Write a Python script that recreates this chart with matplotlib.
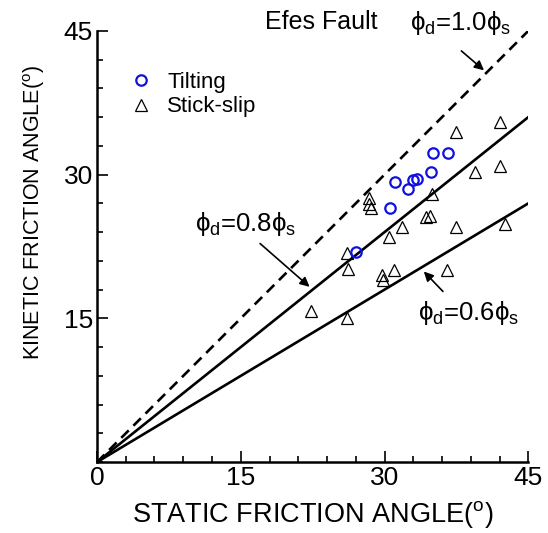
import numpy as np
import matplotlib
matplotlib.use("Agg")
import matplotlib.pyplot as plt
from matplotlib.ticker import MultipleLocator

plt.rcParams['font.family'] = ['Liberation Sans', 'DejaVu Sans']
plt.rcParams['mathtext.fontset'] = 'custom'
plt.rcParams['mathtext.rm'] = 'Liberation Sans'
plt.rcParams['mathtext.it'] = 'Liberation Sans:italic'

# tilting tests (static, kinetic)
tilt_static = [35.1, 36.6, 34.9, 33.4, 33.0, 32.4, 31.1, 30.6, 27.0]
tilt_kinetic = [32.3, 32.3, 30.3, 29.5, 29.4, 28.5, 29.2, 26.5, 21.9]

# stick-slip tests (static, kinetic)
ss_static = [42.0, 37.5, 42.0, 39.4, 35.0, 28.4, 28.4, 28.6, 34.7, 34.3,
             31.8, 37.5, 42.6, 30.5, 26.1, 26.2, 31.0, 29.7, 29.8, 36.5,
             22.3, 26.1]
ss_kinetic = [35.5, 34.5, 30.9, 30.3, 28.0, 27.6, 26.9, 26.5, 25.7, 25.6,
              24.5, 24.5, 24.9, 23.5, 21.8, 20.2, 20.0, 19.5, 19.0, 20.1,
              15.8, 15.0]

ratios = [1.0, 0.8, 0.6]
line_styles = ['--', '-', '-']

fig = plt.figure(figsize=(5.48, 5.33), dpi=100)
ax = fig.add_axes([0.177, 0.133, 0.787, 0.809])

xs = np.array([0, 45])
for r, ls in zip(ratios, line_styles):
    if ls == '--':
        ax.plot(xs, r * xs, color='black', lw=1.9, dashes=(4, 2.5))
    else:
        ax.plot(xs, r * xs, color='black', lw=1.9)

ax.plot(tilt_static, tilt_kinetic, 'o', ms=7.5, mfc='none', mec='#1010e0', mew=1.6,
        label='Tilting', zorder=4)
ax.plot(ss_static, ss_kinetic, '^', ms=8.5, mfc='none', mec='black', mew=0.9,
        label='Stick-slip', zorder=3)

ax.set_xlim(0, 45)
ax.set_ylim(0, 45)
ax.xaxis.set_minor_locator(MultipleLocator(3))
ax.yaxis.set_minor_locator(MultipleLocator(3))
ax.set_xticks([0, 15, 30, 45])
ax.set_yticks([15, 30, 45])
ax.tick_params(which='both', direction='in', labelsize=19, width=1.2)
ax.tick_params(which='major', length=8, pad=3)
ax.tick_params(which='minor', length=4.5)
for s in ['top', 'right']:
    ax.spines[s].set_visible(False)
for s in ['left', 'bottom']:
    ax.spines[s].set_linewidth(1.8)

ax.set_xlabel(r'STATIC FRICTION ANGLE($^{\rm o}$)', fontsize=19.5, labelpad=6)
ax.set_ylabel(r'KINETIC FRICTION ANGLE($^{\rm o}$)', fontsize=15.5)
ax.yaxis.set_label_coords(-0.115, 0.58)

ax.text(23.4, 45.9, 'Efes Fault', fontsize=18, ha='center', va='center', clip_on=False)

phi_d = r'$\mathrm{\phi}_{\rm d}$'
phi_s = r'$\mathrm{\phi}_{\rm s}$'
arrow = dict(arrowstyle='-|>', color='black', lw=1.2, mutation_scale=14)
ax.text(37.9, 45.8, phi_d + '=1.0' + phi_s, fontsize=18.5, ha='center', va='center',
        clip_on=False)
ax.annotate('', xy=(40.6, 40.7), xytext=(37.8, 43.1), arrowprops=arrow)
ax.text(15.5, 24.9, phi_d + '=0.8' + phi_s, fontsize=18.5, ha='center', va='center')
ax.annotate('', xy=(22.4, 18.1), xytext=(16.8, 23.0), arrowprops=arrow)
ax.text(38.8, 15.6, phi_d + '=0.6' + phi_s, fontsize=18.5, ha='center', va='center')
ax.annotate('', xy=(33.9, 20.1), xytext=(36.3, 17.6), arrowprops=arrow)

ax.legend(loc='upper left', bbox_to_anchor=(0.055, 0.925), frameon=False, fontsize=16,
          handletextpad=0.7, labelspacing=0.15, handlelength=1.0, borderaxespad=0)

fig.savefig('out.png', dpi=100)
